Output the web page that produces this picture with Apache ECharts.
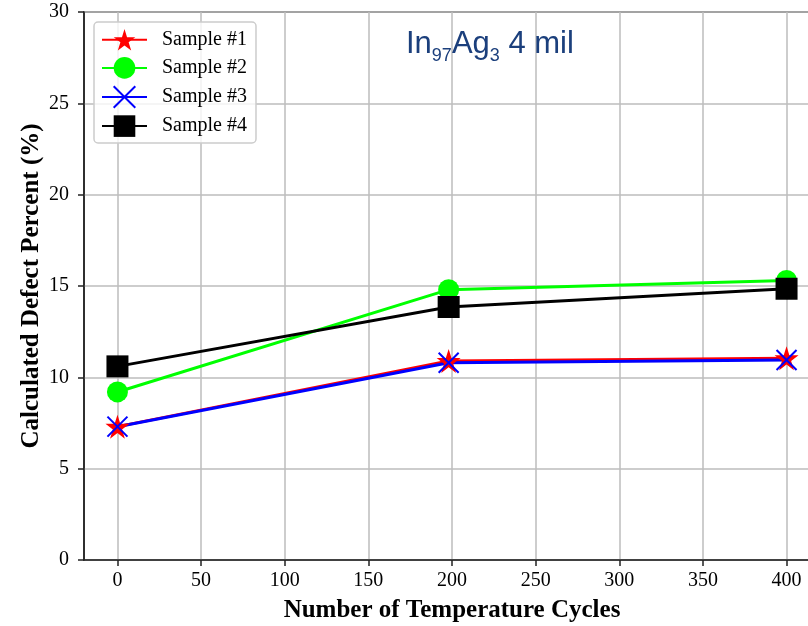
<!DOCTYPE html>
<html><head><meta charset="utf-8">
<script src="https://cdn.jsdelivr.net/npm/echarts@6/dist/echarts.min.js"></script>
<style>html,body{margin:0;padding:0;background:#fff}#c{width:808px;height:626px}</style>
</head><body><div id="c"></div>
<script>
var cycles = [0, 198, 400];
var sample1 = [7.3, 10.9, 11.05];
var sample2 = [9.2, 14.8, 15.3];
var sample3 = [7.3, 10.8, 10.95];
var sample4 = [10.6, 13.85, 14.85];
var seriesNames = ['Sample #1', 'Sample #2', 'Sample #3', 'Sample #4'];
var yTicks = [0, 5, 10, 15, 20, 25, 30];
var xTicks = [0, 50, 100, 150, 200, 250, 300, 350, 400];

function pairs(xs, ys){ return xs.map(function(x,i){ return [x, ys[i]]; }); }

var serif = '"Liberation Serif", "Times New Roman", serif';
var sans = '"Liberation Sans", Arial, sans-serif';
var starPath = 'path://M50,0 L61.2,34.5 L97.6,34.5 L68.2,55.9 L79.4,90.5 L50,69.1 L20.6,90.5 L31.8,55.9 L2.4,34.5 L38.8,34.5 Z';
var xPath = 'path://M0,0 L10,10 M0,10 L10,0';

var chart = echarts.init(document.getElementById('c'), null, {renderer:'canvas'});
function onTick(v){ return xTicks.indexOf(v) >= 0; }

chart.setOption({
  animation: false,
  backgroundColor: '#fff',
  title: {
    left: 401, top: 24,
    text: '{a|In}{s|97}{a|Ag}{s|3}{a| 4 mil}',
    textStyle: {
      fontWeight: 'normal',
      rich: {
        a: {fontSize: 31, fontFamily: sans, fontWeight: 'normal', color: '#1b3f7c', lineHeight: 36, verticalAlign: 'bottom', padding: [0,0,5,0]},
        s: {fontSize: 18, fontFamily: sans, fontWeight: 'normal', color: '#1b3f7c', lineHeight: 20, verticalAlign: 'bottom'}
      }
    }
  },
  legend: {
    orient: 'vertical', left: 94, top: 22,
    data: seriesNames,
    itemWidth: 45, itemHeight: 27, itemGap: 6.5,
    padding: [7, 9, 6, 7],
    backgroundColor: 'rgba(255,255,255,0.8)',
    borderColor: '#cccccc', borderWidth: 1.5, borderRadius: 4,
    textStyle: {fontFamily: serif, fontSize: 20, color: '#000', padding: [0,0,0,10]}
  },
  grid: {left: 84, top: 12, width: 736, height: 548, show: true, borderColor: '#222', borderWidth: 1.5,
         containLabel: false, outerBoundsMode: 'none'},
  xAxis: {
    type: 'value', min: -20, max: 420, interval: 10,
    name: 'Number of Temperature Cycles', nameLocation: 'middle', nameGap: 38,
    nameTextStyle: {fontFamily: serif, fontSize: 25, fontWeight: 'bold', color: '#000'},
    axisLine: {show: true, onZero: false, lineStyle: {color: '#222', width: 1.5}},
    axisTick: {show: true, length: 6, lineStyle: {color: '#222', width: 1.5}, customValues: xTicks},
    axisLabel: {fontFamily: serif, fontSize: 20, color: '#000', margin: 11, customValues: xTicks,
                formatter: function(v){ return onTick(v) ? String(v) : ''; }},
    splitLine: {show: true, lineStyle: {color: '#bdbdbd', width: 1.5}, interval: function(i, v){ return onTick(v); }}
  },
  yAxis: {
    type: 'value', min: 0, max: 30, interval: 5,
    name: 'Calculated Defect Percent (%)', nameLocation: 'middle', nameGap: 40, nameMoveOverlap: false,
    nameTextStyle: {fontFamily: serif, fontSize: 25, fontWeight: 'bold', color: '#000'},
    axisLine: {show: true, onZero: false, lineStyle: {color: '#222', width: 1.5}},
    axisTick: {show: true, length: 6, lineStyle: {color: '#222', width: 1.5}},
    axisLabel: {fontFamily: serif, fontSize: 20, color: '#000', margin: 15,
                formatter: function(v){ return yTicks.indexOf(v) >= 0 ? String(v) : ''; }},
    splitLine: {show: true, lineStyle: {color: '#bdbdbd', width: 1.5}}
  },
  series: [
    {name: seriesNames[0], type: 'line', data: pairs(cycles, sample1), symbol: starPath, symbolSize: 24,
     lineStyle: {color: '#ff0000', width: 3}, itemStyle: {color: '#ff0000'}},
    {name: seriesNames[1], type: 'line', data: pairs(cycles, sample2), symbol: 'circle', symbolSize: 21,
     lineStyle: {color: '#00ff00', width: 3}, itemStyle: {color: '#00ff00'}},
    {name: seriesNames[2], type: 'line', data: pairs(cycles, sample3), symbol: xPath, symbolSize: 20,
     lineStyle: {color: '#0000ff', width: 3}, itemStyle: {color: 'rgba(0,0,0,0)', borderColor: '#0000ff', borderWidth: 2}},
    {name: seriesNames[3], type: 'line', data: pairs(cycles, sample4), symbol: 'rect', symbolSize: 22,
     lineStyle: {color: '#000000', width: 3}, itemStyle: {color: '#000000'}}
  ]
});
</script></body></html>
